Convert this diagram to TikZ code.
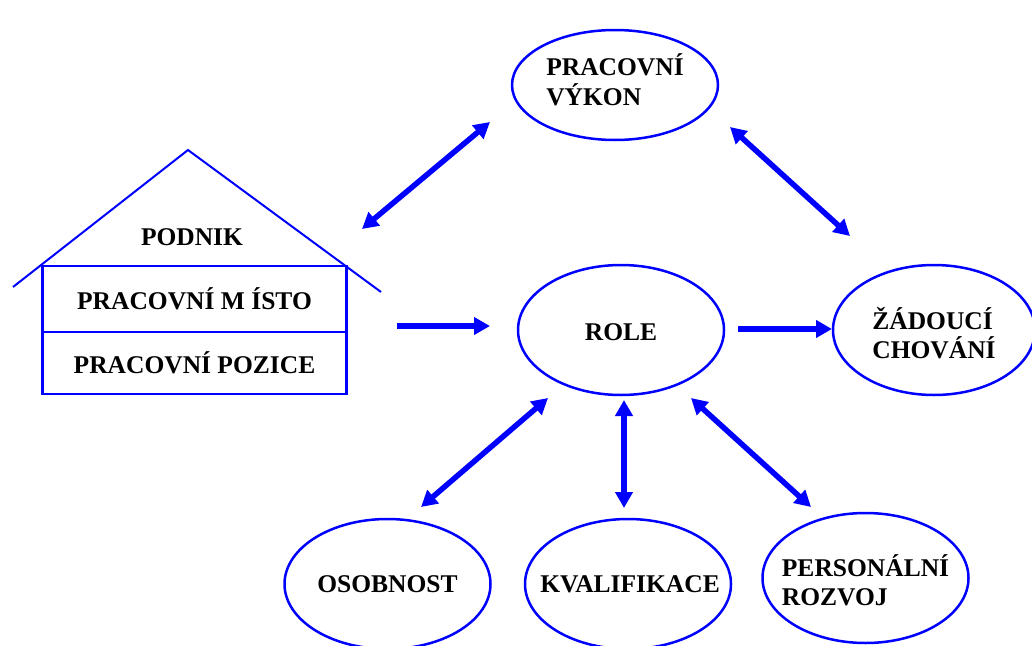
\documentclass[tikz,border=0pt]{standalone}
\usepackage{fontspec}
\setmainfont{Liberation Serif}
\usetikzlibrary{shapes.geometric,arrows.meta}
\begin{document}
\begin{tikzpicture}[x=1pt,y=-1pt,
  lbl/.style={font=\fontsize{25.5}{29.5}\selectfont\bfseries, text=black, align=left, inner sep=0pt},
  oval/.style={ellipse, draw=blue, line width=2.5pt, inner sep=0pt, minimum width=206pt, minimum height=130pt},
  room/.style={rectangle, draw=blue, line width=2.5pt, minimum width=304pt, inner sep=0pt,
               font=\fontsize{25.5}{29.5}\selectfont\bfseries},
  headtip/.tip={Triangle[length=16pt,width=17pt]},
  link/.style={draw=blue, line width=5.5pt, headtip-headtip},
  flow/.style={draw=blue, line width=5.5pt, -headtip}]
\useasboundingbox (0,0) rectangle (1032,645);

% house: roof and the two rooms
\coordinate (roofL) at (13,287);
\coordinate (peak) at (188,150);
\coordinate (roofR) at (381,292);
\draw[blue, line width=2pt] (roofL) -- (peak) -- (roofR);
\node[room, minimum height=66pt] (misto) at (194.5,299) {PRACOVNÍ M ÍSTO};
\node[room, minimum height=62pt] (pozice) at (194.5,363) {PRACOVNÍ POZICE};
\node[lbl] (podnik) at (192,237) {PODNIK};

% ellipses with their labels
\node[oval, minimum height=110pt] (vykon) at (615,85) {};
\node[lbl] (tvykon) at ([yshift=5pt]vykon.center) {PRACOVNÍ\\VÝKON};
\node[oval] (role) at (621,330) {};
\node[lbl] (trole) at ([yshift=-2pt]role.center) {ROLE};
\node[oval, minimum width=202pt] (chovani) at (934,330) {};
\node[lbl] (tchovani) at ([yshift=-3pt]chovani.center) {ŽÁDOUCÍ\\CHOVÁNÍ};
\node[oval] (osobnost) at (387.5,584) {};
\node[lbl] (tosobnost) at (osobnost) {OSOBNOST};
\node[oval] (kvalifikace) at (628,584) {};
\node[lbl] (tkvalifikace) at ([xshift=2pt]kvalifikace.center) {KVALIFIKACE};
\node[oval] (rozvoj) at (865.5,578) {};
\node[lbl] (trozvoj) at ([yshift=-2pt]rozvoj.center) {PERSONÁLNÍ\\ROZVOJ};

% arrow end points
\coordinate (a1) at (490,122);  \coordinate (b1) at (362,229);
\coordinate (a2) at (730,127);  \coordinate (b2) at (850,236);
\coordinate (a3) at (397,326);  \coordinate (b3) at (490,326);
\coordinate (a4) at (738,329);  \coordinate (b4) at (832,329);
\coordinate (a5) at (548,398);  \coordinate (b5) at (421,507);
\coordinate (a6) at (624,400);  \coordinate (b6) at (624,508);
\coordinate (a7) at (691,398);  \coordinate (b7) at (811,507);

\draw[link] (a1) -- (b1);
\draw[link] (a2) -- (b2);
\draw[flow] (a3) -- (b3);
\draw[flow] (a4) -- (b4);
\draw[link] (a5) -- (b5);
\draw[link] (a6) -- (b6);
\draw[link] (a7) -- (b7);
\end{tikzpicture}
\end{document}
